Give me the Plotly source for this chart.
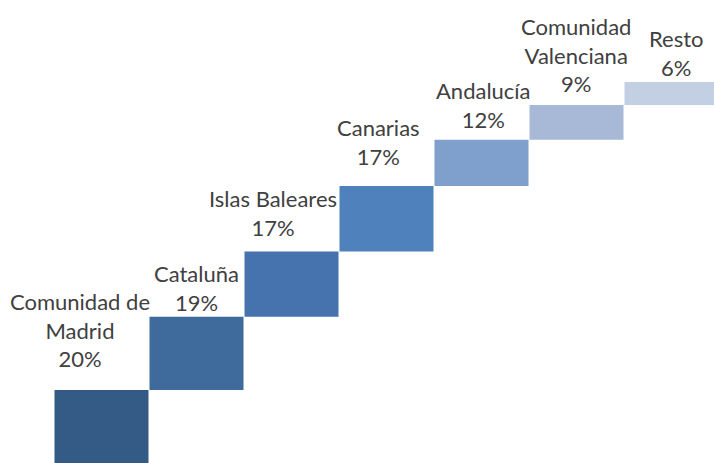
import plotly.graph_objects as go

# Data
categories = ["Comunidad de<br>Madrid", "Cataluña", "Islas Baleares", "Canarias",
              "Andalucía", "Comunidad<br>Valenciana", "Resto"]
values = [20, 19, 17, 17, 12, 9, 6]

# Styles
colors = ["#345A86", "#3F6A9C", "#4673AE", "#4F81BD", "#7F9FCC", "#A8B9D8", "#C3CFE3"]
label_xshift = [-22, 0, -19, -8, 2, -1, 5]
label_yshift = [16, -1, 8, 14, 5, 6, -1]

bases = []
run = 0
for v in values:
    bases.append(run)
    run += v
tops = [b + v for b, v in zip(bases, values)]
xs = list(range(len(values)))

fig = go.Figure(go.Bar(
    x=xs, y=values, base=bases,
    marker=dict(color=colors, line=dict(width=0)),
    hoverinfo="skip",
))

for i, (c, v) in enumerate(zip(categories, values)):
    fig.add_annotation(
        x=xs[i], y=tops[i], xref="x", yref="y",
        text=f"{c}<br>{v}%", showarrow=False,
        xanchor="center", yanchor="bottom", align="center",
        xshift=label_xshift[i], yshift=label_yshift[i],
        font=dict(family="Lato", size=22, color="#404040"),
    )

fig.update_layout(
    width=714, height=463,
    margin=dict(l=54, r=0, t=0, b=0),
    paper_bgcolor="white", plot_bgcolor="white",
    bargap=1/95,
    showlegend=False,
    hovermode=False,
    xaxis=dict(visible=False, range=[-0.5, -0.5 + 660/95]),
    yaxis=dict(visible=False, range=[1.04, 121.3]),
)

fig.write_html(
    "out.html",
    config={"displayModeBar": False, "staticPlot": True},
    post_script="document.body.style.margin='0';document.body.style.overflow='hidden';",
)
